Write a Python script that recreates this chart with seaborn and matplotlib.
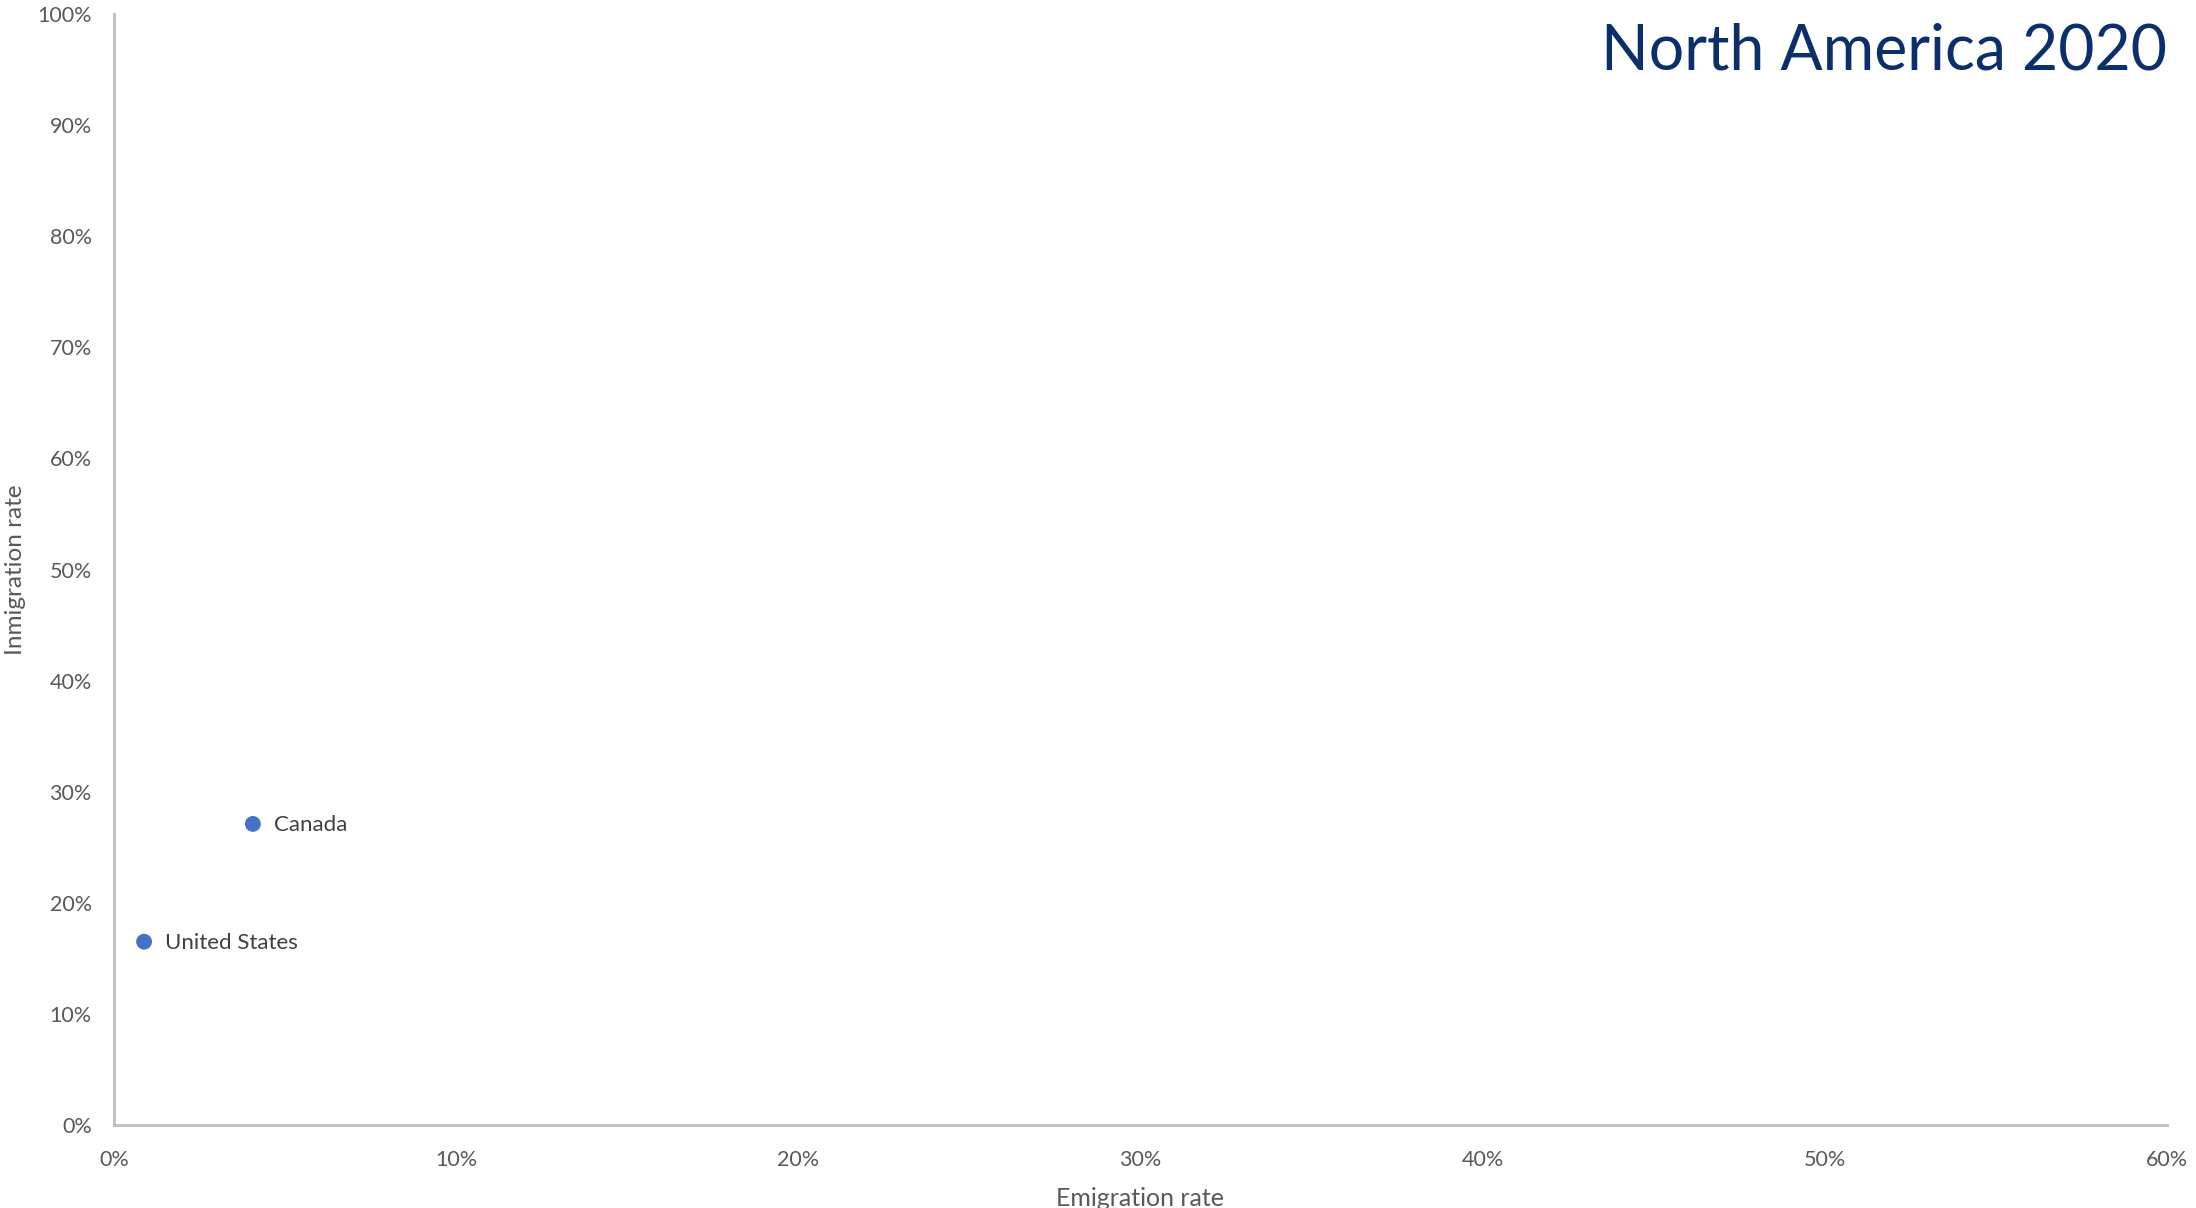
import matplotlib
matplotlib.use("Agg")
import matplotlib.pyplot as plt
import pandas as pd
import seaborn as sns
from matplotlib.ticker import PercentFormatter

countries = ["United States", "Canada"]
emigration_rate = [0.88, 4.06]     # %
immigration_rate = [16.5, 27.1]    # %

x_ticks = [0, 10, 20, 30, 40, 50, 60]
y_ticks = [0, 10, 20, 30, 40, 50, 60, 70, 80, 90, 100]

title = "North America 2020"
x_label = "Emigration rate"
y_label = "Inmigration rate"

sns.set_theme(style="white")
plt.rcParams["font.family"] = ["Lato", "DejaVu Sans"]

df = pd.DataFrame({"country": countries, "emig": emigration_rate, "immig": immigration_rate})

fig = plt.figure(figsize=(21.96, 12.08), dpi=100)
ax = fig.add_axes([0.0519, 0.0687, 0.9349, 0.9197])

sns.scatterplot(data=df, x="emig", y="immig", ax=ax, s=130, color="#4472C4",
                edgecolor="none", legend=False, zorder=3)

for _, r in df.iterrows():
    ax.annotate(r["country"], (r["emig"], r["immig"]), xytext=(15, -1),
                textcoords="offset points", va="center", ha="left",
                fontsize=16, color="#404040")

ax.set_xlim(0, 60)
ax.set_ylim(0, 100)
ax.set_xticks(x_ticks)
ax.set_yticks(y_ticks)
ax.xaxis.set_major_formatter(PercentFormatter(decimals=0))
ax.yaxis.set_major_formatter(PercentFormatter(decimals=0))
ax.tick_params(axis="both", length=0, labelsize=15.5, labelcolor="#595959")
ax.tick_params(axis="x", pad=18)
ax.tick_params(axis="y", pad=16)

for side in ["top", "right"]:
    ax.spines[side].set_visible(False)
for side in ["left", "bottom"]:
    ax.spines[side].set_color("#BFBFBF")
    ax.spines[side].set_linewidth(2)

ax.set_xlabel(x_label, fontsize=18, color="#595959", labelpad=12)
ax.set_ylabel(y_label, fontsize=17.5, color="#595959", labelpad=8)

ax.text(1.0, 0.992, title, transform=ax.transAxes, ha="right", va="top",
        fontsize=45, color="#0B2F6B")

fig.savefig("out.png", dpi=100)
plt.close(fig)
